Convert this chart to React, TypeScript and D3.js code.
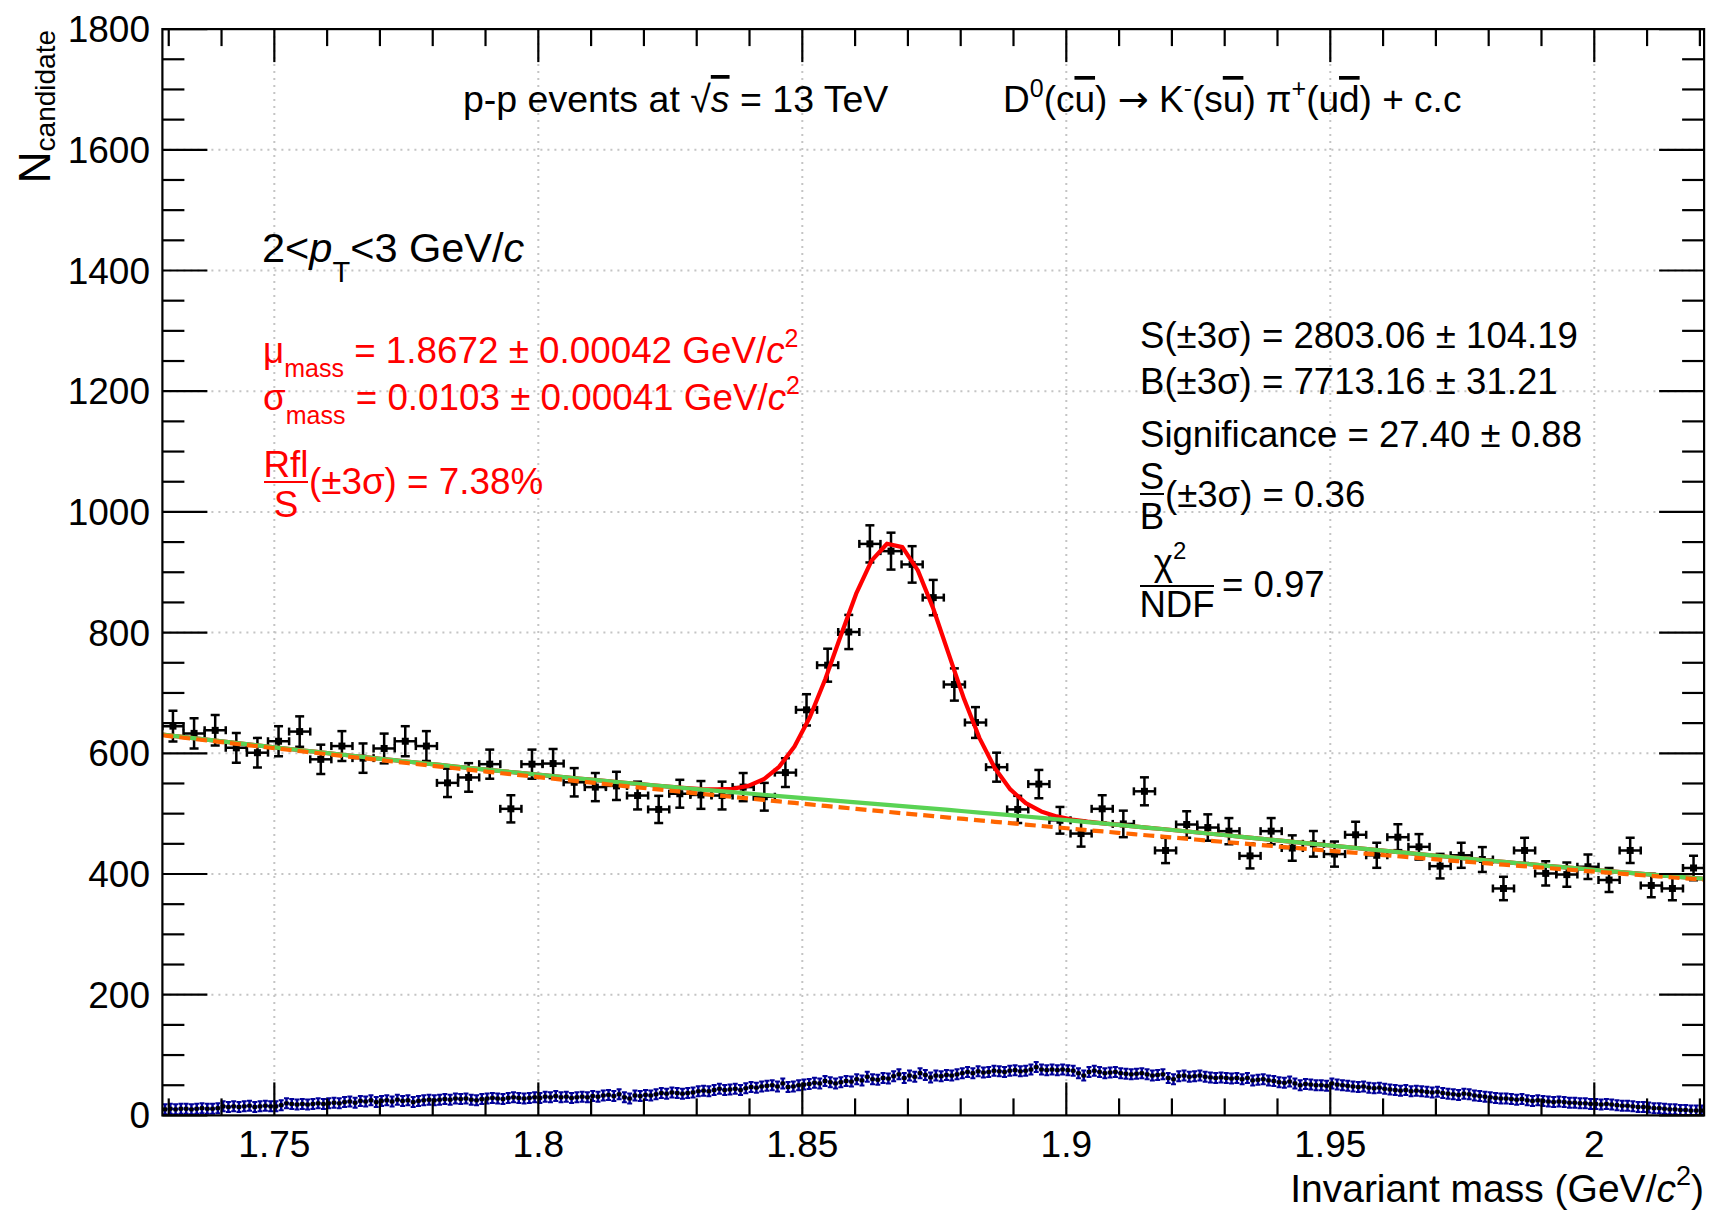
import React from 'react';
import * as d3 from 'd3';

const W = 1713;
const H = 1212;

// ---- data histogram (0.004 GeV/c^2 bins) ----
const histLow = 1.7288;
const histBinWidth = 0.004;
const histCounts = [
  645, 633, 638, 609, 601, 620, 636, 590, 612, 592, 608, 620, 612, 551, 560, 582, 508, 582, 583, 552, 544, 546, 530, 507,
  533, 531, 530, 544, 528, 568, 672, 746, 801, 947, 935, 913, 858, 714, 651, 577, 507, 549, 489, 467, 508, 483, 537, 439,
  482, 477, 471, 430, 471, 443, 450, 433, 465, 431, 461, 445, 413, 431, 424, 376, 439, 401, 399, 412, 390, 439, 381, 376, 410,
];

// ---- reflection template histogram (0.001 GeV/c^2 bins) ----
const reflLow = 1.7288;
const reflBinWidth = 0.001;
const reflCounts = [
  10, 11, 10, 11, 11, 10, 11, 12, 11, 11, 12,
  15, 14, 15, 14, 15, 16, 14, 15, 16, 15,
  15, 17, 20, 19, 18, 19, 18, 19, 20, 19,
  20, 21, 20, 22, 23, 21, 24, 23, 25, 22,
  24, 25, 23, 26, 24, 25, 22, 24, 25, 26,
  25, 26, 27, 26, 28, 27, 28, 26, 25, 27,
  28, 29, 28, 27, 29, 30, 29, 28, 29, 30,
  29, 31, 30, 32, 30, 31, 29, 30, 31, 30,
  32, 31, 33, 34, 32, 35, 30, 28, 33, 32,
  34, 33, 35, 37, 36, 38, 37, 36, 37, 38,
  40, 41, 40, 42, 44, 42, 43, 44, 42, 45,
  47, 46, 48, 49, 50, 48, 53, 47, 48, 50,
  51, 52, 54, 53, 57, 55, 53, 55, 57, 56,
  60, 58, 64, 60, 59, 62, 61, 65, 68, 62,
  66, 64, 70, 67, 63, 66, 65, 67, 66, 68,
  70, 72, 70, 73, 71, 72, 74, 73, 72, 74,
  75, 73, 74, 76, 80, 76, 75, 76, 75, 76,
  75, 74, 70, 66, 72, 74, 72, 70, 71, 72,
  70, 69, 68, 69, 70, 68, 66, 67, 68, 62,
  60, 65, 66, 64, 65, 66, 64, 63, 62, 63,
  62, 61, 62, 60, 62, 58, 59, 60, 58, 57,
  55, 54, 56, 53, 50, 52, 51, 50, 50, 49,
  53, 51, 50, 49, 48, 47, 48, 46, 45, 46,
  44, 43, 42, 41, 42, 40, 41, 40, 39, 38,
  39, 37, 36, 35, 34, 36, 35, 33, 32, 31,
  30, 29, 28, 28, 27, 26, 27, 25, 24, 25,
  24, 23, 22, 23, 22, 21, 21, 20, 20, 19,
  19, 18, 19, 18, 17, 16, 16, 15, 14, 14,
  13, 12, 12, 11, 10, 10, 9, 9, 8, 8,
  8,
];

// ---- axes ----
const xDomain = [1.7288, 2.0208];
const yDomain = [0, 1800];
const xTicks = [1.75, 1.8, 1.85, 1.9, 1.95, 2.0];
const xTickLabels = ['1.75', '1.8', '1.85', '1.9', '1.95', '2'];
const yTicks = [0, 200, 400, 600, 800, 1000, 1200, 1400, 1600, 1800];
const yTickLabels = ['0', '200', '400', '600', '800', '1000', '1200', '1400', '1600', '1800'];
const xMinorStep = 0.01;
const yMinorStep = 50;

// ---- fit parameters ----
const fitMean = 1.8672;
const fitSigma = 0.0103;
const signalYield = 2810.6;
const bkgNorm = 629.9;
const bkgSlope = -1.638;
const reflAmp = [9.5, 4.0];
const reflMean = [1.9, 1.88];
const reflSigma = [0.05, 0.09];
const fitNpx = 100;

const FONT = '"Liberation Sans", Arial, Helvetica, sans-serif';

const frame = { left: 162.4, right: 1704.1, top: 29.1, bottom: 1115.4 };

function bkgFn(x: number) {
  return bkgNorm * Math.exp(bkgSlope * (x - histLow));
}
function reflFn(x: number) {
  let s = 0;
  for (let i = 0; i < reflAmp.length; i++) {
    const z = (x - reflMean[i]) / reflSigma[i];
    s += reflAmp[i] * Math.exp(-0.5 * z * z);
  }
  return s;
}
function sigFn(x: number) {
  const z = (x - fitMean) / fitSigma;
  return (signalYield * histBinWidth) / (fitSigma * Math.sqrt(2 * Math.PI)) * Math.exp(-0.5 * z * z);
}

export default function App() {
  const x = d3.scaleLinear().domain(xDomain).range([frame.left, frame.right]);
  const y = d3.scaleLinear().domain(yDomain).range([frame.bottom, frame.top]);

  const xs = d3.range(fitNpx + 1).map((i) => xDomain[0] + (i * (xDomain[1] - xDomain[0])) / fitNpx);
  const mk = (f: (v: number) => number) =>
    d3
      .line<number>()
      .x((d) => x(d))
      .y((d) => y(f(d)))(xs) || '';
  const redPath = mk((v) => bkgFn(v) + reflFn(v) + sigFn(v));
  const greenPath = mk((v) => bkgFn(v) + reflFn(v));
  const orangePath = mk((v) => bkgFn(v));

  const xMinor = d3
    .range(Math.round(1.73 / xMinorStep), Math.round(2.02 / xMinorStep) + 1)
    .map((i) => i * xMinorStep)
    .filter((v) => !xTicks.some((t) => Math.abs(t - v) < 1e-6));
  const yMinor = d3.range(0, 1801, yMinorStep).filter((v) => v % 200 !== 0);

  const majX = 33, minX = 17, majY = 45, minY = 22;
  const grid = '#c4c4c4';
  const navy = '#000099';

  return (
    <svg
      width={W}
      height={H}
      viewBox={`0 0 ${W} ${H}`}
      style={{ position: 'absolute', left: 0, top: 0, background: '#fff' }}
      fontFamily={FONT}
    >
      <rect x={0} y={0} width={W} height={H} fill="#fff" />
      <defs>
        <clipPath id="plotclip">
          <rect x={frame.left} y={frame.top} width={frame.right - frame.left} height={frame.bottom - frame.top} />
        </clipPath>
      </defs>

      {/* grid */}
      <g stroke={grid} strokeWidth={2} strokeDasharray="2 5">
        {xTicks.map((t) => (
          <line key={'gx' + t} x1={x(t)} x2={x(t)} y1={frame.top} y2={frame.bottom} />
        ))}
        {yTicks.slice(1, -1).map((t) => (
          <line key={'gy' + t} x1={frame.left} x2={frame.right} y1={y(t)} y2={y(t)} />
        ))}
      </g>

      {/* reflection template */}
      <g clipPath="url(#plotclip)">
        {reflCounts.map((c, i) => {
          const lo = reflLow + i * reflBinWidth;
          const cx = x(lo + reflBinWidth / 2);
          const cy = y(c);
          const x0 = x(lo), x1 = x(lo + reflBinWidth);
          return (
            <g key={'r' + i}>
              <line x1={x0} x2={x1} y1={cy} y2={cy} stroke={navy} strokeWidth={2.5} />
              <line x1={cx} x2={cx} y1={cy - 5} y2={cy + 5} stroke={navy} strokeWidth={2.5} />
              <line x1={cx - 2.5} x2={cx + 2.5} y1={cy - 5} y2={cy - 5} stroke={navy} strokeWidth={2} />
              <line x1={cx - 2.5} x2={cx + 2.5} y1={cy + 5} y2={cy + 5} stroke={navy} strokeWidth={2} />
              <rect x={cx - 2} y={cy - 2} width={4} height={4} fill="#000" />
            </g>
          );
        })}
      </g>

      {/* data points */}
      <g clipPath="url(#plotclip)" stroke="#000" strokeWidth={2.5}>
        {histCounts.map((c, i) => {
          const lo = histLow + i * histBinWidth;
          const cx = x(lo + histBinWidth / 2);
          const x0 = x(lo), x1 = x(lo + histBinWidth);
          const e = Math.sqrt(c);
          const yt = y(c + e), yb = y(c - e), cy = y(c);
          return (
            <g key={'d' + i}>
              <line x1={x0} x2={x1} y1={cy} y2={cy} />
              <line x1={x0} x2={x0} y1={cy - 4} y2={cy + 4} />
              <line x1={x1} x2={x1} y1={cy - 4} y2={cy + 4} />
              <line x1={cx} x2={cx} y1={yt} y2={yb} />
              <line x1={cx - 4.5} x2={cx + 4.5} y1={yt} y2={yt} />
              <line x1={cx - 4.5} x2={cx + 4.5} y1={yb} y2={yb} />
              <rect x={cx - 3.5} y={cy - 3.5} width={7} height={7} fill="#000" stroke="none" />
            </g>
          );
        })}
      </g>

      {/* fit curves */}
      <g clipPath="url(#plotclip)" fill="none">
        <path d={redPath} stroke="#ff0000" strokeWidth={4.2} strokeLinejoin="round" />
        <path d={greenPath} stroke="#59d354" strokeWidth={4.2} />
        <path d={orangePath} stroke="#ff6600" strokeWidth={4.2} strokeDasharray="11 6" />
      </g>

      {/* frame */}
      <rect
        x={frame.left}
        y={frame.top}
        width={frame.right - frame.left}
        height={frame.bottom - frame.top}
        fill="none"
        stroke="#000"
        strokeWidth={2.2}
      />

      {/* ticks */}
      <g stroke="#000" strokeWidth={2.2}>
        {xTicks.map((t) => (
          <g key={'tx' + t}>
            <line x1={x(t)} x2={x(t)} y1={frame.bottom} y2={frame.bottom - majX} />
            <line x1={x(t)} x2={x(t)} y1={frame.top} y2={frame.top + majX} />
          </g>
        ))}
        {xMinor.map((t) => (
          <g key={'mx' + t}>
            <line x1={x(t)} x2={x(t)} y1={frame.bottom} y2={frame.bottom - minX} />
            <line x1={x(t)} x2={x(t)} y1={frame.top} y2={frame.top + minX} />
          </g>
        ))}
        {yTicks.map((t) => (
          <g key={'ty' + t}>
            <line x1={frame.left} x2={frame.left + majY} y1={y(t)} y2={y(t)} />
            <line x1={frame.right} x2={frame.right - majY} y1={y(t)} y2={y(t)} />
          </g>
        ))}
        {yMinor.map((t) => (
          <g key={'my' + t}>
            <line x1={frame.left} x2={frame.left + minY} y1={y(t)} y2={y(t)} />
            <line x1={frame.right} x2={frame.right - minY} y1={y(t)} y2={y(t)} />
          </g>
        ))}
      </g>

      {/* tick labels */}
      <g fontSize={37} fill="#000">
        {xTicks.map((t, i) => (
          <text key={'lx' + t} x={x(t)} y={1157} textAnchor="middle">
            {xTickLabels[i]}
          </text>
        ))}
        {yTicks.map((t, i) => (
          <text key={'ly' + t} x={150} y={y(t) + 13} textAnchor="end">
            {yTickLabels[i]}
          </text>
        ))}
      </g>

      {/* axis titles */}
      <text x={1704} y={1202} fontSize={39} textAnchor="end">
        Invariant mass (GeV/<tspan fontStyle="italic">c</tspan>
        <tspan fontSize={27} dy={-17}>2</tspan>
        <tspan dy={17}>)</tspan>
      </text>
      <text transform="translate(50,30) rotate(-90)" fontSize={44} textAnchor="end">
        N<tspan fontSize={28} dy={5}>candidate</tspan>
      </text>

      {/* title */}
      <text x={463} y={112} fontSize={37.5}>
        p-p events at √<tspan fontStyle="italic" textDecoration="overline">s</tspan> = 13 TeV
      </text>
      <text x={1003} y={112} fontSize={37}>
        D<tspan fontSize={25} dy={-15}>0</tspan>
        <tspan dy={15}>(c</tspan>
        <tspan textDecoration="overline">u</tspan>) <tspan fontFamily='"DejaVu Sans"'>→</tspan> K
        <tspan fontSize={25} dy={-15}>-</tspan>
        <tspan dy={15}>(s</tspan>
        <tspan textDecoration="overline">u</tspan>) π<tspan fontSize={25} dy={-15}>+</tspan>
        <tspan dy={15}>(u</tspan>
        <tspan textDecoration="overline">d</tspan>) + c.c
      </text>

      {/* pT */}
      <text x={262} y={262} fontSize={41.5}>
        2&lt;<tspan fontStyle="italic">p</tspan>
        <tspan fontSize={29} dy={20}>T</tspan>
        <tspan dy={-20}>&lt;3 GeV/</tspan>
        <tspan fontStyle="italic">c</tspan>
      </text>

      {/* red fit results */}
      <g fill="#ff0000" fontSize={36.8}>
        <text x={263} y={363}>
          μ<tspan fontSize={25} dy={14}>mass</tspan>
          <tspan dy={-14}> = 1.8672 ± 0.00042 GeV/</tspan>
          <tspan fontStyle="italic">c</tspan>
          <tspan fontSize={25} dy={-16}>2</tspan>
        </text>
        <text x={263} y={410}>
          σ<tspan fontSize={25} dy={14}>mass</tspan>
          <tspan dy={-14}> = 0.0103 ± 0.00041 GeV/</tspan>
          <tspan fontStyle="italic">c</tspan>
          <tspan fontSize={25} dy={-16}>2</tspan>
        </text>
        <text x={286} y={477} textAnchor="middle">Rfl</text>
        <line x1={264} x2={308} y1={482} y2={482} stroke="#ff0000" strokeWidth={2} />
        <text x={286} y={517} textAnchor="middle">S</text>
        <text x={309} y={494}>(±3σ) = 7.38%</text>
      </g>

      {/* signal / background stats */}
      <g fill="#000" fontSize={36.6}>
        <text x={1140} y={348}>S(±3σ) = 2803.06 ± 104.19</text>
        <text x={1140} y={394}>B(±3σ) = 7713.16 ± 31.21</text>
        <text x={1140} y={447}>Significance = 27.40 ± 0.88</text>
        <text x={1152} y={489} textAnchor="middle">S</text>
        <line x1={1140} x2={1164} y1={494} y2={494} stroke="#000" strokeWidth={2} />
        <text x={1152} y={529} textAnchor="middle">B</text>
        <text x={1165} y={507}>(±3σ) = 0.36</text>
        <text x={1170} y={575} textAnchor="middle">
          χ<tspan fontSize={24} dy={-16}>2</tspan>
        </text>
        <line x1={1140} x2={1214} y1={586} y2={586} stroke="#000" strokeWidth={2} />
        <text x={1177} y={617} textAnchor="middle">NDF</text>
        <text x={1222} y={597}>= 0.97</text>
      </g>
    </svg>
  );
}
